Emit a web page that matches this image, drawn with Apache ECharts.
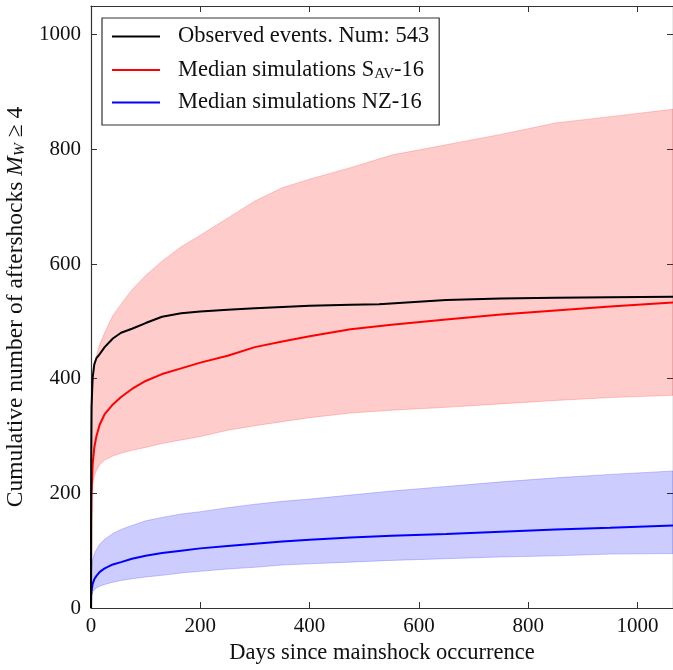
<!DOCTYPE html>
<html>
<head>
<meta charset="utf-8">
<script src="https://cdn.jsdelivr.net/npm/echarts@6/dist/echarts.min.js"></script>
<style>
html,body{margin:0;padding:0;background:#fff;}
#main{width:673px;height:670px;}
</style>
</head>
<body>
<div id="main"></div>
<script>
// observed catalogue
var obsDays = [0, 0.3, 1, 3, 6, 10, 16, 25, 40, 55, 75, 100, 130, 165, 200, 250, 300, 350, 400, 475, 527, 530, 650, 750, 850, 950, 1065];
var obs = [0, 250, 350, 402, 425, 436, 443, 455, 470, 480, 487, 497, 508, 514, 517, 520, 523, 525, 527, 529, 530, 533, 537, 540, 541, 542, 543];

// simulations
var simDays = [0, 0.3, 1, 3, 6, 10, 16, 25, 40, 55, 75, 100, 130, 165, 200, 250, 300, 350, 400, 475, 550, 650, 750, 850, 950, 1065];
var savMed = [0, 150, 200, 250, 280, 300, 320, 338, 355, 368, 382, 396, 408, 418, 428, 440, 455, 465, 474, 486, 494, 503, 512, 519, 526, 533];
var savLow = [120, 170, 195, 215, 230, 240, 250, 258, 265, 270, 275, 280, 287, 293, 299, 310, 318, 325, 332, 340, 345, 350, 356, 362, 367, 371];
var savUp = [200, 280, 330, 390, 420, 440, 460, 480, 510, 530, 555, 580, 605, 630, 650, 680, 710, 733, 748, 768, 790, 808, 826, 846, 857, 870];
var nzMed = [0, 20, 30, 42, 50, 56, 63, 69, 76, 80, 86, 91, 96, 100, 104, 108, 112, 116, 119, 123, 126, 129, 133, 137, 140, 144];
var nzLow = [0, 12, 22, 28, 32, 35, 38, 41, 45, 48, 51, 54, 57, 61, 64, 68, 71, 75, 77, 80, 83, 86, 89, 91, 94, 95];
var nzUp = [15, 50, 70, 84, 94, 102, 111, 120, 130, 137, 144, 152, 158, 164, 168, 175, 181, 186, 190, 197, 204, 212, 220, 227, 233, 239];

var FONT = '"Liberation Serif", "DejaVu Serif", serif';
var legendNames = {
    obs: '{f|Observed events. Num: 543}',
    sav: '{f|Median simulations S}{s|AV}{a|-16}',
    nz: '{f|Median simulations NZ-16}'
};

function pairs(xs, ys){
    var arr = [];
    for(var i = 0; i < xs.length; i++){
        arr.push([xs[i], ys[i]]);
    }
    return arr;
}
// filled region between lo and hi (like fill_between)
function band(lo, hi, color){
    var rows = [];
    for(var i = 0; i < simDays.length; i++){
        rows.push([simDays[i], lo[i], hi[i]]);
    }
    return {
        type: 'custom',
        data: rows,
        encode: {x: 0, y: [1, 2]},
        silent: true,
        clip: true,
        z: 1,
        renderItem: function(params, api){
            if(params.dataIndex !== 0) return;
            var top = [], bot = [];
            for(var j = 0; j < rows.length; j++){
                top.push(api.coord([rows[j][0], rows[j][2]]));
                bot.unshift(api.coord([rows[j][0], rows[j][1]]));
            }
            return {
                type: 'polygon',
                shape: {points: top.concat(bot)},
                style: {fill: color, stroke: color, lineWidth: 1}
            };
        }
    };
}
function line(name, xs, ys, color){
    return {
        name: name,
        type: 'line',
        data: pairs(xs, ys),
        symbol: 'none',
        lineStyle: {color: color, width: 2},
        itemStyle: {color: color},
        z: 5
    };
}
function plain(v){ return String(v); }

var axisCommon = {
    axisLine: {show: true, onZero: false, lineStyle: {color: '#333', width: 1.2}},
    axisTick: {show: true, inside: true, length: 6, lineStyle: {color: '#333'}},
    splitLine: {show: false}
};

var chart = echarts.init(document.getElementById('main'));
var option = {
    animation: false,
    backgroundColor: '#fff',
    grid: {left: 91, right: 0, top: 6, bottom: 62, containLabel: false, outerBoundsMode: 'none'},
    legend: {
        orient: 'vertical',
        left: 102,
        top: 18,
        data: ['obs', 'sav', 'nz'],
        icon: 'rect',
        itemWidth: 48,
        itemHeight: 2,
        itemGap: 9,
        padding: [7, 10, 11, 10],
        borderColor: '#333',
        borderWidth: 1.2,
        borderRadius: 0,
        selectedMode: false,
        formatter: function(n){ return legendNames[n]; },
        textStyle: {
            fontFamily: FONT,
            rich: {
                f: {fontFamily: FONT, fontSize: 22.5, color: '#111', lineHeight: 24, padding: [0, 0, 0, 13]},
                a: {fontFamily: FONT, fontSize: 22.5, color: '#111', lineHeight: 24},
                s: {fontFamily: FONT, fontSize: 15, color: '#111', lineHeight: 24, verticalAlign: 'bottom', padding: [10, 0, 0, 0]}
            }
        }
    },
    xAxis: [
        Object.assign({
            type: 'value', min: 0, max: 1065, interval: 200, position: 'bottom',
            name: 'Days since mainshock occurrence',
            nameLocation: 'middle', nameGap: 34,
            nameTextStyle: {fontFamily: FONT, fontSize: 22.5, color: '#111'},
            axisLabel: {fontFamily: FONT, fontSize: 21, color: '#111', margin: 8, showMaxLabel: false, formatter: plain}
        }, axisCommon),
        Object.assign({
            type: 'value', min: 0, max: 1065, interval: 200, position: 'top',
            axisLabel: {show: false}
        }, axisCommon)
    ],
    yAxis: [
        Object.assign({
            type: 'value', min: 0, max: 1050, interval: 200, position: 'left',
            name: '{a|Cumulative number of aftershocks }{i|M}{s|W}{a| ≥ 4}',
            nameLocation: 'middle', nameGap: 58,
            nameTextStyle: {
                fontFamily: FONT, fontSize: 23.5, color: '#111',
                rich: {
                    a: {fontFamily: FONT, fontSize: 23.5, color: '#111', lineHeight: 24},
                    i: {fontFamily: FONT, fontSize: 23.5, color: '#111', fontStyle: 'italic', lineHeight: 24},
                    s: {fontFamily: FONT, fontSize: 15.5, color: '#111', fontStyle: 'italic', lineHeight: 24, verticalAlign: 'bottom', padding: [10, 0, 0, 0]}
                }
            },
            axisLabel: {fontFamily: FONT, fontSize: 21, color: '#111', margin: 10, showMaxLabel: false, formatter: plain}
        }, axisCommon),
        Object.assign({
            type: 'value', min: 0, max: 1050, interval: 200, position: 'right',
            axisLabel: {show: false}
        }, axisCommon)
    ],
    series: [
        band(savLow, savUp, 'rgba(255,0,0,0.2)'),
        band(nzLow, nzUp, 'rgba(0,0,255,0.2)'),
        line('sav', simDays, savMed, '#ff0000'),
        line('nz', simDays, nzMed, '#0000ff'),
        line('obs', obsDays, obs, '#000000')
    ]
};
chart.setOption(option);
</script>
</body>
</html>
